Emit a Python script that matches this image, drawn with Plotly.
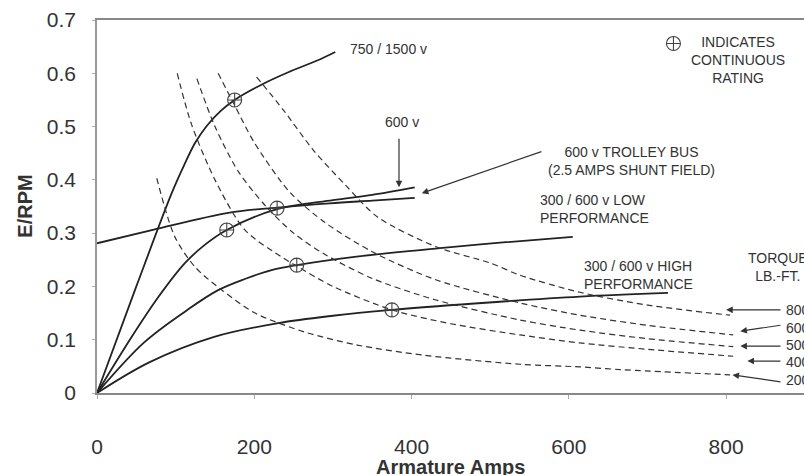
import plotly.graph_objects as go

# ---- motor characteristic curves: armature amps vs E/RPM ----
amps_750 = [0, 50, 95, 110, 125, 140, 157, 175, 211, 245, 280, 303]
epr_750 = [0, 0.20, 0.375, 0.425, 0.470, 0.502, 0.529, 0.55, 0.58, 0.603, 0.624, 0.64]

amps_600v = [0, 44, 78, 112, 137, 165, 229, 300, 350, 404]
epr_600v = [0, 0.105, 0.18, 0.244, 0.278, 0.306, 0.345, 0.362, 0.372, 0.386]

amps_trolley = [0, 71, 167, 229, 296, 350, 404]
epr_trolley = [0.281, 0.306, 0.338, 0.348, 0.356, 0.361, 0.366]

amps_low = [0, 60, 114, 154, 188, 223, 254, 330, 436, 520, 605]
epr_low = [0, 0.095, 0.155, 0.193, 0.214, 0.231, 0.240, 0.256, 0.272, 0.283, 0.293]

amps_high = [0, 67, 148, 230, 300, 375, 480, 614, 726]
epr_high = [0, 0.058, 0.105, 0.131, 0.145, 0.156, 0.168, 0.181, 0.188]

# ---- constant torque curves (lb.-ft.) ----
amps_t800 = [203, 237, 275, 316, 357, 432, 500, 538, 614, 700, 805]
epr_t800 = [0.593, 0.531, 0.456, 0.39, 0.33, 0.274, 0.244, 0.221, 0.189, 0.165, 0.146]

amps_t600 = [154, 175, 200, 245, 290, 350, 430, 538, 614, 700, 809]
epr_t600 = [0.60, 0.54, 0.47, 0.377, 0.32, 0.265, 0.213, 0.169, 0.146, 0.127, 0.109]

amps_t500 = [127, 150, 180, 215, 250, 290, 350, 430, 538, 614, 700, 809]
epr_t500 = [0.59, 0.50, 0.415, 0.35, 0.30, 0.26, 0.215, 0.175, 0.137, 0.118, 0.102, 0.087]

amps_t400 = [102, 120, 150, 188, 235, 254, 300, 375, 450, 538, 614, 700, 809]
epr_t400 = [0.60, 0.505, 0.40, 0.306, 0.255, 0.238, 0.20, 0.156, 0.13, 0.109, 0.094, 0.082, 0.069]

amps_t200 = [76, 99, 125, 159, 201, 265, 331, 415, 538, 614, 665, 805]
epr_t200 = [0.403, 0.293, 0.236, 0.193, 0.150, 0.114, 0.090, 0.071, 0.054, 0.049, 0.044, 0.034]

# continuous rating points
rating_amps = [175, 165, 229, 254, 375]
rating_epr = [0.55, 0.306, 0.347, 0.24, 0.156]

x_ticks = [0, 200, 400, 600, 800]
y_ticks = [0, 0.1, 0.2, 0.3, 0.4, 0.5, 0.6, 0.7]

FONT = "Liberation Sans, Arial, sans-serif"
INK = "#222222"
TXT = "#333333"

fig = go.Figure()

solid = [
    (amps_750, epr_750),
    (amps_600v, epr_600v),
    (amps_trolley, epr_trolley),
    (amps_low, epr_low),
    (amps_high, epr_high),
]
for xs, ys in solid:
    fig.add_trace(go.Scatter(x=xs, y=ys, mode="lines",
                             line=dict(color=INK, width=1.8, shape="spline", smoothing=1.0),
                             hoverinfo="skip"))

dashed = [
    (amps_t800, epr_t800),
    (amps_t600, epr_t600),
    (amps_t500, epr_t500),
    (amps_t400, epr_t400),
    (amps_t200, epr_t200),
]
for xs, ys in dashed:
    fig.add_trace(go.Scatter(x=xs, y=ys, mode="lines",
                             line=dict(color="#333333", width=1.2, dash="6px,4px",
                                       shape="spline", smoothing=0.8),
                             hoverinfo="skip"))

# rating symbols on the curves
fig.add_trace(go.Scatter(x=rating_amps, y=rating_epr, mode="markers",
                         marker=dict(symbol="circle-cross-open", size=14,
                                     color="#444444", line=dict(width=1.1)),
                         hoverinfo="skip"))
# key symbol next to the note
fig.add_trace(go.Scatter(x=[733], y=[0.656], mode="markers",
                         marker=dict(symbol="circle-cross-open", size=14,
                                     color="#444444", line=dict(width=1.1)),
                         hoverinfo="skip"))

ann = []


def label(x, y, text, xanchor="left", align="left"):
    ann.append(dict(x=x, y=y, xref="x", yref="y", text=text, showarrow=False,
                    xanchor=xanchor, yanchor="middle", align=align,
                    font=dict(family=FONT, size=14, color=TXT)))


def arrow(x, y, ax, ay):
    ann.append(dict(x=x, y=y, ax=ax, ay=ay, xref="x", yref="y", axref="x", ayref="y",
                    text="", showarrow=True, arrowhead=2, arrowsize=1.1,
                    arrowwidth=1.2, arrowcolor=TXT))


label(319, 0.645, "750 / 1500 v")
label(388, 0.508, "600 v", xanchor="center", align="center")
arrow(384, 0.386, 384, 0.48)
label(680, 0.435, "600 v TROLLEY BUS<br>(2.5 AMPS SHUNT FIELD)", xanchor="center", align="center")
arrow(413, 0.375, 567, 0.454)
label(561, 0.345, "300 / 600 v LOW<br>PERFORMANCE")
label(617, 0.222, "300 / 600 v HIGH<br>PERFORMANCE")
label(815, 0.625, "INDICATES<br>CONTINUOUS<br>RATING", xanchor="center", align="center")
label(866, 0.237, "TORQUE<br>LB.-FT.", xanchor="center", align="center")

torque_names = ["800", "600", "500", "400", "200"]
torque_label_y = [0.156, 0.122, 0.09, 0.058, 0.024]
arrow_tips = [(800, 0.156), (818, 0.116), (818, 0.088), (827, 0.06), (808, 0.034)]
arrow_tails = [(871, 0.156), (871, 0.1275), (871, 0.088), (871, 0.06), (871, 0.0206)]
for name, ly, tip, tail in zip(torque_names, torque_label_y, arrow_tips, arrow_tails):
    label(874, ly, name)
    arrow(tip[0], tip[1], tail[0], tail[1])

# axis titles
ann.append(dict(x=0.5, y=-0.198, xref="paper", yref="paper", text="<b>Armature Amps</b>",
                showarrow=False, xanchor="center", yanchor="middle",
                font=dict(family=FONT, size=20, color=TXT)))
ann.append(dict(x=-0.103, y=0.5, xref="paper", yref="paper", text="<b>E/RPM</b>",
                showarrow=False, xanchor="center", yanchor="middle", textangle=-90,
                font=dict(family=FONT, size=20, color=TXT)))

fig.update_layout(
    width=804, height=475,
    margin=dict(l=97, r=0, t=20, b=82),
    paper_bgcolor="white", plot_bgcolor="white",
    showlegend=False,
    annotations=ann,
    font=dict(family=FONT, color=TXT),
)
fig.update_xaxes(range=[0, 899], tickvals=x_ticks, ticktext=[str(v) for v in x_ticks],
                 showgrid=False, zeroline=False, showline=True, linecolor="#888888",
                 linewidth=1.5, mirror=True, ticks="outside", ticklen=4,
                 tickcolor="#aaaaaa", ticklabelstandoff=30,
                 tickfont=dict(family=FONT, size=21, color=TXT))
fig.update_yaxes(range=[0, 0.7], tickvals=y_ticks, ticktext=["0", "0.1", "0.2", "0.3", "0.4", "0.5", "0.6", "0.7"],
                 showgrid=False, zeroline=False, showline=True, linecolor="#999999",
                 linewidth=1.5, ticks="outside", ticklen=3, tickcolor="#aaaaaa",
                 ticklabelstandoff=12,
                 tickfont=dict(family=FONT, size=21, color=TXT))

fig.write_html("out.html")
